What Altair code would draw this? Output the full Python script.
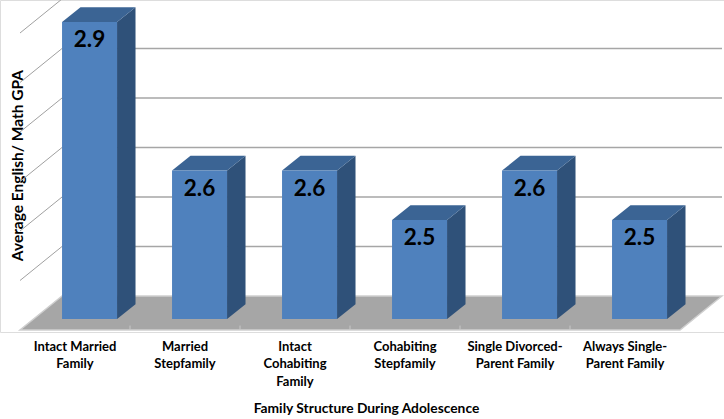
import altair as alt
import pandas as pd

# ---------------- data ----------------
categories = [
    "Intact Married|Family",
    "Married|Stepfamily",
    "Intact|Cohabiting|Family",
    "Cohabiting|Stepfamily",
    "Single Divorced-|Parent Family",
    "Always Single-|Parent Family",
]
gpa = [2.9, 2.6, 2.6, 2.5, 2.6, 2.5]
value_labels = ["2.9", "2.6", "2.6", "2.5", "2.6", "2.5"]
grid_levels = [2.4, 2.5, 2.6, 2.7, 2.8, 2.9]
axis_min = 2.3
axis_max = 2.9

# ---------------- 3-D projection (style constants) ----------------
KX = 42 / 110          # horizontal shift of full depth, in category units
KY = 34 / 495          # vertical shift of full depth, in GPA units
BAR_X0, BAR_X1 = 0.26, 0.76
D_FRONT, D_BACK = 0.32, 0.76
n = len(categories)


def px(x, d):
    return x + d * KX


def py(v, d):
    return v - (1 - d) * KY


X_DOMAIN = [-20 / 110, 704 / 110]
Y_DOMAIN = [axis_min - 36 / 495, axis_min + 296 / 495]
xs = alt.Scale(domain=X_DOMAIN, nice=False, zero=False)
ys = alt.Scale(domain=Y_DOMAIN, nice=False, zero=False)

FONT = "Lato"
YAX = alt.Axis(title="Average English/ Math GPA", labels=False, ticks=False,
               domain=False, grid=False, titleX=17, titleY=165, titleAngle=270,
               titleAlign="center", titleBaseline="middle", titleFont=FONT,
               titleFontSize=15.5, titleFontWeight="bold", titleColor="black")
YT = "Average English/ Math GPA"

# ---------------- tables ----------------
floor_df = pd.DataFrame([
    {"y": py(axis_min, d), "xl": px(0, d), "xr": px(n, d)} for d in (0, 1)
])
back_grid = pd.DataFrame([{"x": px(0, 1), "x2": px(n, 1), "y": py(g, 1)} for g in grid_levels])
left_grid = pd.DataFrame([{"x": px(0, 0), "x2": px(0, 1), "y": py(g, 0), "y2": py(g, 1)}
                          for g in grid_levels])
floor_ticks = pd.DataFrame([{"x": px(b, 0), "y": py(axis_min, 0), "y2": py(axis_min, 0) + 0.009}
                            for b in range(1, n)])

front_df = pd.DataFrame([{
    "i": i, "x": px(i + BAR_X0, D_FRONT), "x2": px(i + BAR_X1, D_FRONT),
    "y": py(axis_min, D_FRONT), "y2": py(v, D_FRONT),
} for i, v in enumerate(gpa)])

side_df = pd.DataFrame([{
    "i": i, "x": px(i + BAR_X1, d), "y": py(v, d), "y2": py(axis_min, d)
} for i, v in enumerate(gpa) for d in (D_FRONT, D_BACK)])

top_df = pd.DataFrame([{
    "i": i, "y": py(v, d), "x": px(i + BAR_X0, d), "x2": px(i + BAR_X1, d)
} for i, v in enumerate(gpa) for d in (D_FRONT, D_BACK)])

label_df = pd.DataFrame([{
    "x": px(i + (BAR_X0 + BAR_X1) / 2, D_FRONT), "y": py(v, D_FRONT), "t": t
} for i, (v, t) in enumerate(zip(gpa, value_labels))])

cat_df = pd.DataFrame({"cat": categories})

# ---------------- layers ----------------
floor = alt.Chart(floor_df).mark_area(orient="horizontal", color="#a6a6a6",
                                      stroke="#cfcfcf", strokeWidth=1.5).encode(
    y=alt.Y("y:Q", scale=ys, axis=YAX, title=YT),
    x=alt.X("xl:Q", scale=xs, axis=None),
    x2="xr:Q",
)

ticks = alt.Chart(floor_ticks).mark_rule(color="#c8c8c8", strokeWidth=1).encode(
    x=alt.X("x:Q", scale=xs, axis=None),
    y=alt.Y("y:Q", scale=ys, axis=YAX, title=YT),
    y2="y2:Q",
)

bgrid = alt.Chart(back_grid).mark_rule(color="#a6a6a6", strokeWidth=1.6).encode(
    x=alt.X("x:Q", scale=xs, axis=None),
    x2="x2:Q",
    y=alt.Y("y:Q", scale=ys, axis=YAX, title=YT),
)

lgrid = alt.Chart(left_grid).mark_rule(color="#a0a0a0", strokeWidth=1).encode(
    x=alt.X("x:Q", scale=xs, axis=None),
    x2="x2:Q",
    y=alt.Y("y:Q", scale=ys, axis=YAX, title=YT),
    y2="y2:Q",
)

side = alt.Chart(side_df).mark_area(orient="vertical", color="#2f5179").encode(
    x=alt.X("x:Q", scale=xs, axis=None),
    y=alt.Y("y:Q", scale=ys, axis=YAX, title=YT),
    y2="y2:Q",
    detail="i:N",
)

top = alt.Chart(top_df).mark_area(orient="horizontal", color="#3b6494").encode(
    y=alt.Y("y:Q", scale=ys, axis=YAX, title=YT),
    x=alt.X("x:Q", scale=xs, axis=None),
    x2="x2:Q",
    detail="i:N",
)

front = alt.Chart(front_df).mark_rect(color="#4f81bd").encode(
    x=alt.X("x:Q", scale=xs, axis=None),
    x2="x2:Q",
    y=alt.Y("y:Q", scale=ys, axis=YAX, title=YT),
    y2="y2:Q",
)

labels = alt.Chart(label_df).mark_text(font=FONT, fontSize=22.5, fontWeight="bold",
                                       color="black", baseline="middle", dy=18).encode(
    x=alt.X("x:Q", scale=xs, axis=None),
    y=alt.Y("y:Q", scale=ys, axis=YAX, title=YT),
    text="t:N",
)

cat_axis = alt.Chart(cat_df).mark_point(opacity=0).encode(
    x=alt.X("cat:N", sort=None,
            scale=alt.Scale(type="band", range=[20, 680], paddingInner=0, paddingOuter=0),
            axis=alt.Axis(title="Family Structure During Adolescence", domain=False,
                          ticks=False, grid=False, labelAngle=0,
                          labelExpr="split(datum.label, '|')",
                          labelFont=FONT, labelFontSize=13, labelFontWeight="bold",
                          labelColor="black", labelLineHeight=17.5, labelPadding=8,
                          labelLimit=200, titleFont=FONT, titleFontSize=13.8,
                          titleFontWeight="bold", titleColor="black",
                          titleX=366, titleY=76, titleBaseline="middle",
                          titleAlign="center")),
)

chart = alt.layer(floor, ticks, bgrid, lgrid, side, top, front, labels, cat_axis).resolve_scale(
    x="independent"
).resolve_axis(x="independent").properties(
    width=724, height=332,
    autosize=alt.AutoSizeParams(type="none"),
    padding={"left": 0, "top": 0, "right": 0, "bottom": 87},
).configure_view(stroke=None).configure(background="white")

chart.save("out.html", embed_options={"renderer": "svg", "actions": False})
